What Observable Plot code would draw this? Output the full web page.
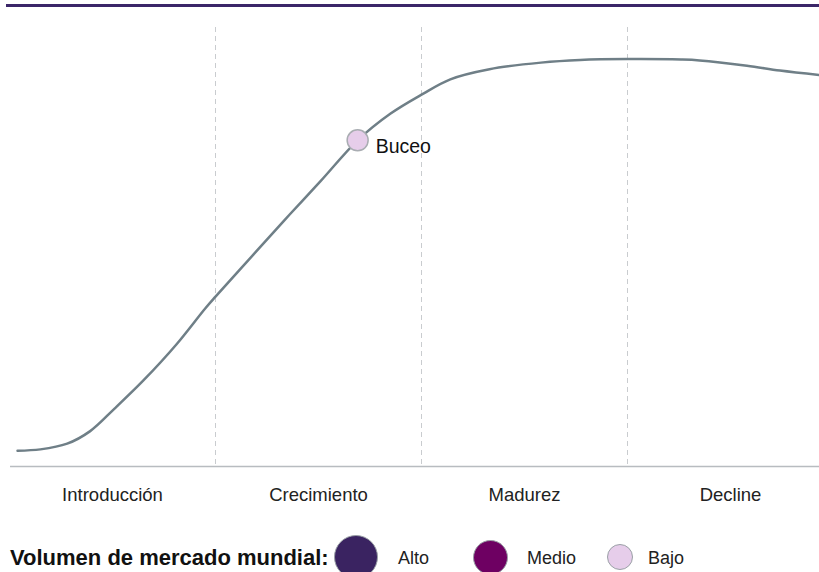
<!DOCTYPE html>
<html>
<head>
<meta charset="utf-8">
<script src="https://cdn.jsdelivr.net/npm/d3@7"></script>
<script src="https://cdn.jsdelivr.net/npm/@observablehq/plot@0.6"></script>
<style>
  html, body { margin: 0; padding: 0; width: 819px; height: 572px; overflow: hidden; background: #fff; font-family: "Liberation Sans", Arial, sans-serif; }
  #topbar { position: absolute; left: 6px; right: 0; top: 4px; height: 3px; background: #3b2668; }
  #chart { position: absolute; left: 0; top: 0; }
  #legend { position: absolute; left: 0; top: 0; width: 819px; height: 572px; pointer-events: none; }
  .lg-title { position: absolute; left: 10px; top: 546.5px; font-weight: bold; font-size: 22px; line-height: 1; color: #111; white-space: nowrap; }
  .lg-dot { position: absolute; border-radius: 50%; border: 1.5px solid #9aa0a6; box-sizing: border-box; }
  .lg-lab { position: absolute; font-size: 18px; line-height: 1; color: #222; top: 549px; white-space: nowrap; }
</style>
</head>
<body>
<div id="topbar"></div>
<div id="chart"></div>
<div id="legend"></div>
<script>
// Phases (x categories)
const phases = ["Introducción", "Crecimiento", "Madurez", "Decline"];
// Life cycle curve: x in phase units, y in relative units (0-100)
const curveX = [0.039, 0.15, 0.28, 0.39, 0.51, 0.65, 0.81, 0.95, 1.0, 1.20, 1.36, 1.51, 1.69, 1.85, 2.0, 2.14, 2.33, 2.58, 2.77, 3.0, 3.26, 3.35, 3.58, 3.74, 3.93];
const curveY = [3.6, 3.9, 5.2, 8.0, 13.2, 19.6, 27.8, 36.0, 38.7, 49.1, 57.4, 65.0, 74.3, 80.4, 84.7, 88.2, 90.5, 92.0, 92.6, 92.8, 92.7, 92.5, 91.3, 90.2, 89.2];
// Products placed on the curve
const productNames = ["Buceo"];
const productX = [1.69];
const productY = [74.3];
const productVolume = ["Bajo"];
// Legend
const legendTitle = "Volumen de mercado mundial:";
const volumeLevels = ["Alto", "Medio", "Bajo"];
const volumeColors = ["#3a2361", "#6e0062", "#e6cdea"];

const curve = curveX.map((x, i) => ({x, y: curveY[i]}));
const products = productNames.map((name, i) => ({name, x: productX[i], y: productY[i], vol: productVolume[i]}));
const colorOf = v => volumeColors[volumeLevels.indexOf(v)];

const chart = Plot.plot({
  width: 819,
  height: 520,
  marginLeft: 9,
  marginRight: 0,
  marginTop: 27,
  marginBottom: 54,
  style: { fontFamily: "'Liberation Sans', Arial, sans-serif", background: "transparent" },
  x: { domain: [0, 3.932], axis: null },
  y: { domain: [0, 100], axis: null },
  marks: [
    Plot.ruleX([1, 2, 3], { stroke: "#c9cccf", strokeWidth: 1, strokeDasharray: "5,4" }),
    Plot.ruleY([0], { x1: 0.005, x2: 3.932, stroke: "#b8bcc0", strokeWidth: 1.5 }),
    Plot.axisX({
      ticks: [0.5, 1.5, 2.5, 3.5],
      tickFormat: (d) => phases[Math.floor(d)],
      tickSize: 0,
      tickPadding: 21,
      fontSize: 18.5,
      fill: "#222",
      label: null
    }),
    Plot.line(curve, { x: "x", y: "y", curve: "catmull-rom", stroke: "#6f7f87", strokeWidth: 2.5 }),
    Plot.dot(products, { x: "x", y: "y", r: 10.5, fill: d => colorOf(d.vol), stroke: "#a9adb2", strokeWidth: 1.5 }),
    Plot.text(products, { x: "x", y: "y", text: "name", dx: 18, dy: 6.5, textAnchor: "start", fontSize: 19.5, fill: "#111" })
  ]
});
document.getElementById("chart").appendChild(chart);

// Legend (HTML)
const legend = document.getElementById("legend");
const t = document.createElement("div");
t.className = "lg-title";
t.textContent = legendTitle;
legend.appendChild(t);
const dotCx = [356, 490, 620];
const dotR = [22, 17.5, 13];
const labX = [398, 527, 648];
volumeLevels.forEach((lv, i) => {
  const d = document.createElement("div");
  d.className = "lg-dot";
  d.style.left = (dotCx[i] - dotR[i]) + "px";
  d.style.top = (557 - dotR[i]) + "px";
  d.style.width = (2 * dotR[i]) + "px";
  d.style.height = (2 * dotR[i]) + "px";
  d.style.background = volumeColors[i];
  legend.appendChild(d);
  const l = document.createElement("div");
  l.className = "lg-lab";
  l.style.left = labX[i] + "px";
  l.textContent = lv;
  legend.appendChild(l);
});
</script>
</body>
</html>
